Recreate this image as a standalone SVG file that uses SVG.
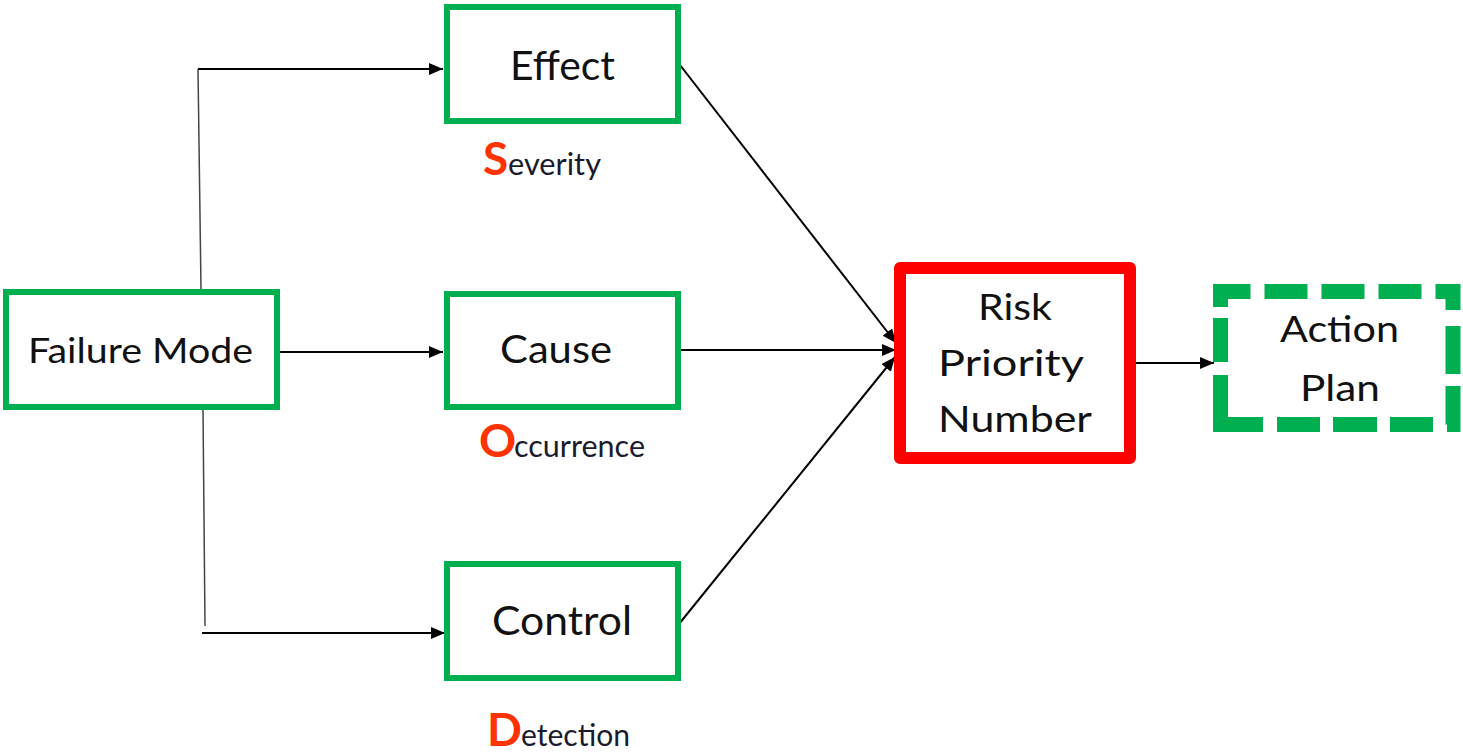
<svg xmlns="http://www.w3.org/2000/svg" width="1463" height="756" viewBox="0 0 1463 756">
  <defs>
    <marker id="arrow" markerUnits="userSpaceOnUse" markerWidth="16" markerHeight="14" refX="14" refY="6" orient="auto">
      <path d="M0,0 L14,6 L0,12 Z" fill="#000"/>
    </marker>
    <style>
      .box { fill: #fff; stroke: #00B050; stroke-width: 6; }
      .rpn { fill: #fff; stroke: #FF0000; stroke-width: 12; stroke-linejoin: round; }
      .plan { fill: none; stroke: #00B050; stroke-width: 15; stroke-linejoin: miter;
              stroke-dasharray: 43 14 43 14 43 14 36 16 48 12 44.5 14 43 13 44 13 43 14 92 13 44 11 45.5 14;
              stroke-dashoffset: 717; }
      .lbl { font-family: Lato, "Open Sans", "Liberation Sans", sans-serif; fill: #111; }
      .sub { font-family: Lato, "Open Sans", "Liberation Sans", sans-serif; fill: #1a1a2e; font-size: 30px; }
      .init { fill: #FF3300; font-size: 46px; font-weight: bold; }
      .wire { fill: none; stroke: #000; stroke-width: 2; }
      .stem { fill: none; stroke: #444; stroke-width: 1.5; }
    </style>
  </defs>

  <rect width="1463" height="756" fill="#fff"/>

  <!-- connectors -->
  <g id="connectors">
    <path class="stem" d="M201,289 L198,69"/>
    <path class="wire" d="M198,69 L443,69" marker-end="url(#arrow)"/>
    <path class="stem" d="M203,410 L205,626"/>
    <path class="wire" d="M202,633 L445,633" marker-end="url(#arrow)"/>
    <path class="wire" d="M280,352 L443,352" marker-end="url(#arrow)"/>
    <path class="wire" d="M680,65 L896,343" marker-end="url(#arrow)"/>
    <path class="wire" d="M680,350 L896,350" marker-end="url(#arrow)"/>
    <path class="wire" d="M679,624 L895,357" marker-end="url(#arrow)"/>
    <path class="wire" d="M1130,363 L1214,363" marker-end="url(#arrow)"/>
  </g>

  <!-- Failure Mode -->
  <g id="failure-mode">
    <rect class="box" x="6" y="292" width="271" height="115"/>
    <text class="lbl" x="28" y="363" font-size="35" textLength="225" lengthAdjust="spacingAndGlyphs">Failure Mode</text>
  </g>

  <!-- Effect / Severity -->
  <g id="effect">
    <rect class="box" x="447" y="7" width="231" height="114"/>
    <text class="lbl" x="510" y="80" font-size="41" textLength="105" lengthAdjust="spacingAndGlyphs">Effect</text>
    <text class="sub" y="175"><tspan class="init" x="483">S</tspan><tspan x="508" textLength="93" lengthAdjust="spacingAndGlyphs">everity</tspan></text>
  </g>

  <!-- Cause / Occurrence -->
  <g id="cause">
    <rect class="box" x="447" y="294" width="231" height="113"/>
    <text class="lbl" x="500" y="363" font-size="39" textLength="112" lengthAdjust="spacingAndGlyphs">Cause</text>
    <text class="sub" y="457"><tspan class="init" x="479">O</tspan><tspan x="514" textLength="131" lengthAdjust="spacingAndGlyphs">ccurrence</tspan></text>
  </g>

  <!-- Control / Detection -->
  <g id="control">
    <rect class="box" x="447" y="564" width="231" height="114"/>
    <text class="lbl" x="492" y="635" font-size="40" textLength="140" lengthAdjust="spacingAndGlyphs">Control</text>
    <text class="sub" y="746"><tspan class="init" x="487">D</tspan><tspan x="521" textLength="109" lengthAdjust="spacingAndGlyphs">etection</tspan></text>
  </g>

  <!-- Risk Priority Number -->
  <g id="rpn">
    <rect class="rpn" x="900" y="268" width="230" height="190"/>
    <text class="lbl" x="978" y="320" font-size="36" textLength="74" lengthAdjust="spacingAndGlyphs">Risk</text>
    <text class="lbl" x="938" y="376" font-size="36" textLength="146" lengthAdjust="spacingAndGlyphs">Priority</text>
    <text class="lbl" x="938" y="432" font-size="36" textLength="154" lengthAdjust="spacingAndGlyphs">Number</text>
  </g>

  <!-- Action Plan: dashed outline traced clockwise from the top edge -->
  <g id="action-plan">
    <rect x="1220.5" y="291.5" width="232.5" height="133" fill="#fff"/>
    <path class="plan" d="M1250.5,291.5 H1453 V424.5 H1220.5 V291.5 H1250.5"/>
    <text class="lbl" x="1280" y="342" font-size="36" textLength="119" lengthAdjust="spacingAndGlyphs">Action</text>
    <text class="lbl" x="1300" y="401" font-size="36" textLength="80" lengthAdjust="spacingAndGlyphs">Plan</text>
  </g>
</svg>
